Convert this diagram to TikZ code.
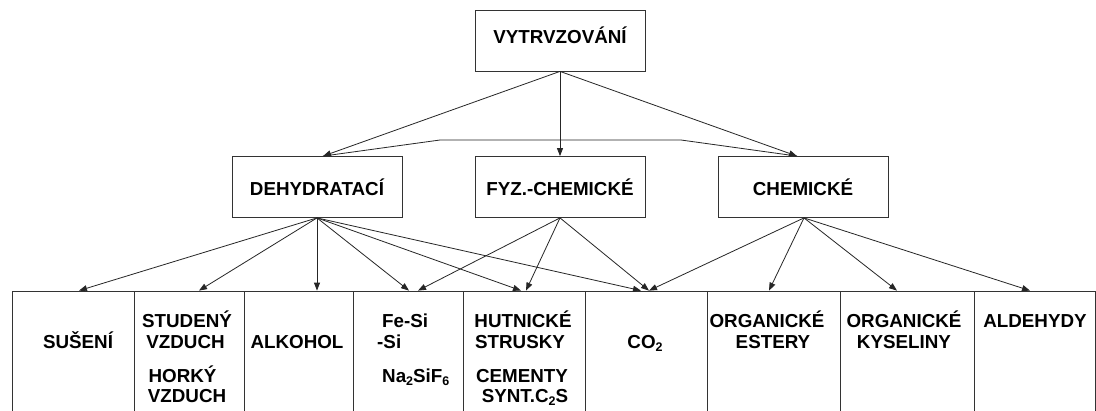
\documentclass[tikz,border=0pt]{standalone}
\usepackage{fontspec}
\setmainfont{Liberation Sans}
\usetikzlibrary{arrows.meta}
\newcommand\subsc[1]{\raisebox{-3.5pt}{\fontsize{12.5}{12.5}\selectfont #1}}
\begin{document}
\begin{tikzpicture}[x=1pt,y=-1pt,
  font=\fontsize{18.8}{21}\selectfont\bfseries,
  box/.style={draw=black!80,line width=0.8pt,inner sep=0pt,minimum width=170pt,minimum height=61pt},
  cell/.style={draw=black!80,line width=0.8pt,inner sep=0pt,minimum height=139pt},
  lbl/.style={anchor=base,inner sep=0pt},
  lblw/.style={anchor=base west,inner sep=0pt},
  conn/.style={draw=black!85,line width=0.8pt,-{Triangle[length=8pt,width=6pt]}},
  plain/.style={draw=black!85,line width=0.8pt},
]
\clip (0,0) rectangle (1096,410);
\fill[white] (0,0) rectangle (1096,410);

% top and middle boxes
\node[box,text height=10pt,text depth=3.6pt] (vyt) at (560,40.5) {VYTRVZOVÁNÍ};
\node[box,text height=16.4pt,text depth=0pt] (deh) at (317,187) {DEHYDRATACÍ\hspace{12pt}};
\node[box,text height=16.4pt,text depth=0pt] (fyz) at (560,187) {FYZ.-CHEMICKÉ\hspace{3pt}};
\node[box,text height=16.4pt,text depth=0pt] (chem) at (803,187) {CHEMICKÉ\hspace{16pt}};

% bottom cells
\node[cell,minimum width=122pt] (sus) at (73,360.5) {};
\node[cell,minimum width=110pt] (stu) at (189,360.5) {};
\node[cell,minimum width=109pt] (alk) at (298.5,360.5) {};
\node[cell,minimum width=110pt] (fes) at (408,360.5) {};
\node[cell,minimum width=122pt] (hut) at (524,360.5) {};
\node[cell,minimum width=122pt] (co2) at (646,360.5) {};
\node[cell,minimum width=133pt] (est) at (773.5,360.5) {};
\node[cell,minimum width=134pt] (kys) at (907,360.5) {};
\node[cell,minimum width=121pt] (ald) at (1034.5,360.5) {};

% texts in bottom cells
\node[lbl] (tsus) at (78,348) {SUŠENÍ};
\node[lbl] (tstu1) at (187,327) {STUDENÝ};
\node[lbl] (tstu2) at (185.5,348) {VZDUCH};
\node[lbl] (tstu3) at (182.5,382) {HORKÝ};
\node[lbl] (tstu4) at (187,402) {VZDUCH};
\node[lbl] (talk) at (297,348) {ALKOHOL};
\node[lblw] (tfes1) at (382,327) {Fe-Si};
\node[lblw] (tfes2) at (377,348) {-Si};
\node[lblw] (tfes3) at (382,382) {Na\subsc{2}SiF\subsc{6}};
\node[lbl] (thut1) at (523,327) {HUTNICKÉ};
\node[lbl] (thut2) at (520,348) {STRUSKY};
\node[lbl] (thut3) at (522,382) {CEMENTY};
\node[lbl] (thut4) at (525,402) {SYNT.C\subsc{2}S};
\node[lbl] (tco2) at (645,348) {CO\subsc{2}};
\node[lbl] (test1) at (767,327) {ORGANICKÉ};
\node[lbl] (test2) at (773,348) {ESTERY};
\node[lbl] (tkys1) at (904,327) {ORGANICKÉ};
\node[lbl] (tkys2) at (904,348) {KYSELINY};
\node[lbl] (tald) at (1035,327) {ALDEHYDY};

% connectors from top
\coordinate (k1) at (440,140);
\coordinate (k2) at (681,140);
\draw[plain] ([xshift=6pt]deh.north) -- (k1) -- (k2) -- ([xshift=-6pt]chem.north);
\draw[conn] (vyt.south) -- ([xshift=6pt]deh.north);
\draw[conn] (vyt.south) -- (fyz.north);
\draw[conn] (vyt.south) -- ([xshift=-6pt]chem.north);

% from DEHYDRATACI
\draw[conn] (deh.south) -- ([xshift=6pt]sus.north);
\draw[conn] (deh.south) -- ([xshift=10pt]stu.north);
\draw[conn] (deh.south) -- ([xshift=18.5pt]alk.north);
\draw[conn] (deh.south) -- ([xshift=1pt]fes.north);
\draw[conn] (deh.south) -- ([xshift=-3pt]hut.north);
\draw[conn] (deh.south) -- ([xshift=-5pt]co2.north);

% from FYZ.-CHEMICKE
\draw[conn] (fyz.south) -- ([xshift=10pt]fes.north);
\draw[conn] (fyz.south) -- ([xshift=2pt]hut.north);
\draw[conn] (fyz.south) -- ([xshift=3pt]co2.north);

% from CHEMICKE
\draw[conn] ([xshift=1pt]chem.south) -- ([xshift=3pt]co2.north);
\draw[conn] ([xshift=1pt]chem.south) -- ([xshift=-4.5pt]est.north);
\draw[conn] ([xshift=1pt]chem.south) -- ([xshift=-10pt]kys.north);
\draw[conn] ([xshift=1pt]chem.south) -- ([xshift=-4.5pt]ald.north);
\end{tikzpicture}
\end{document}
